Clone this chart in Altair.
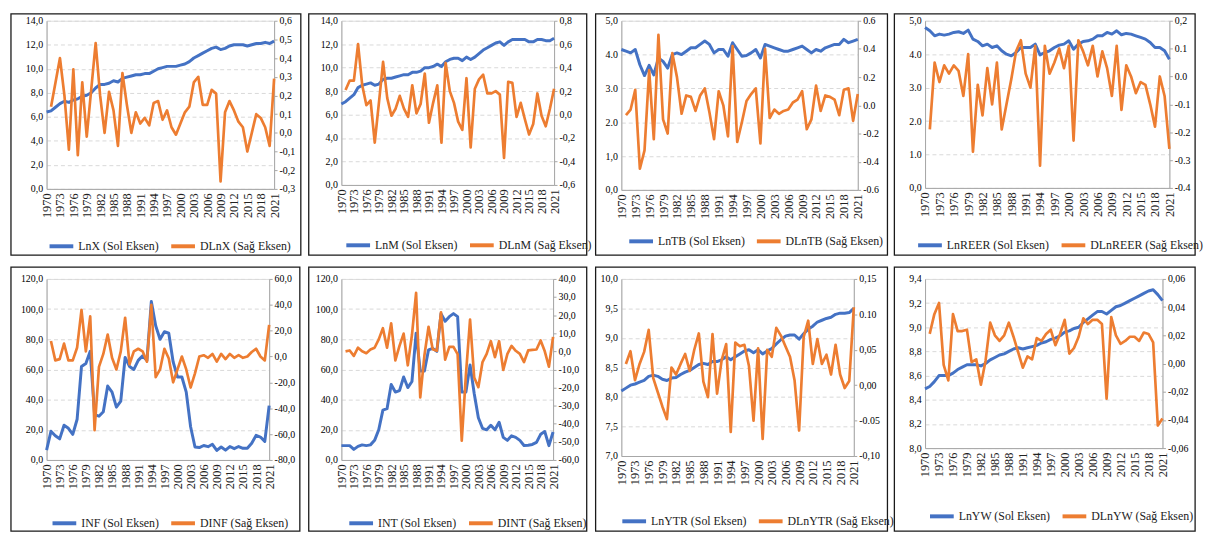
import altair as alt
import pandas as pd

YEARS = list(range(1970, 2022))
YEARS_D = YEARS[1:]
YEAR_TICKS = list(range(1970, 2022, 3))

BLUE = "#4472C4"
ORANGE = "#ED7D31"
FONT = "Liberation Serif"

# ---------------- data ----------------
lnx = [6.4, 6.5, 6.8, 7.1, 7.3, 7.2, 7.4, 7.5, 7.7, 7.8,
       8.0, 8.4, 8.7, 8.7, 8.8, 9.0, 8.9, 9.2, 9.3, 9.4,
       9.5, 9.5, 9.6, 9.6, 9.8, 10.0, 10.1, 10.2, 10.2, 10.2,
       10.3, 10.4, 10.6, 10.9, 11.1, 11.3, 11.5, 11.7, 11.8, 11.6,
       11.7, 11.9, 12.0, 12.0, 12.0, 11.9, 12.0, 12.1, 12.1, 12.2,
       12.1, 12.3]
dlnx = [0.14, 0.27, 0.40, 0.20, -0.09, 0.34, -0.12, 0.27, -0.02,
        0.23, 0.48, 0.20, 0.00, 0.22, 0.12, -0.07, 0.32, 0.15, 0.00,
        0.11, 0.05, 0.08, 0.04, 0.16, 0.17, 0.07, 0.12, 0.03, -0.01,
        0.05, 0.11, 0.14, 0.27, 0.30, 0.15, 0.15, 0.23, 0.21, -0.26,
        0.11, 0.17, 0.12, 0.06, 0.03, -0.10, 0.00, 0.10, 0.08, 0.03,
        -0.07, 0.29]

lnm = [6.9, 7.1, 7.4, 7.7, 8.3, 8.5, 8.6, 8.7, 8.5, 8.6,
       9.0, 9.1, 9.1, 9.2, 9.3, 9.4, 9.4, 9.6, 9.6, 9.7,
       10.0, 10.0, 10.1, 10.3, 10.1, 10.5, 10.7, 10.8, 10.8, 10.6,
       10.9, 10.7, 10.9, 11.2, 11.5, 11.7, 11.9, 12.1, 12.2, 11.9,
       12.2, 12.4, 12.4, 12.4, 12.4, 12.2, 12.2, 12.4, 12.4, 12.3,
       12.3, 12.5]
dlnm = [0.21, 0.29, 0.29, 0.60, 0.25, 0.08, 0.12, -0.24, 0.10,
        0.45, 0.14, -0.01, 0.05, 0.16, 0.05, -0.02, 0.25, 0.01, 0.09,
        0.35, -0.07, 0.10, 0.25, -0.24, 0.44, 0.20, 0.10, -0.06, -0.13,
        0.31, -0.28, 0.22, 0.30, 0.34, 0.18, 0.18, 0.20, 0.17, -0.37,
        0.28, 0.27, -0.02, 0.10, -0.04, -0.17, -0.08, 0.18, -0.01, -0.10,
        0.05, 0.22]

lntb = [4.15, 4.1, 4.05, 4.15, 3.7, 3.38, 3.68, 3.4, 3.9, 3.8,
        3.6, 4.0, 4.05, 4.0, 4.1, 4.2, 4.2, 4.3, 4.4, 4.3,
        4.05, 4.15, 4.15, 3.95, 4.35, 4.15, 3.95, 3.97, 4.05, 4.15,
        3.9, 4.3, 4.25, 4.2, 4.15, 4.1, 4.1, 4.15, 4.2, 4.25,
        4.15, 4.05, 4.15, 4.1, 4.2, 4.25, 4.3, 4.3, 4.45, 4.35,
        4.4, 4.45]
dlntb = [-0.07, -0.03, 0.11, -0.45, -0.32, 0.25, -0.24, 0.50, -0.10,
         -0.20, 0.37, 0.20, -0.06, 0.07, 0.06, -0.04, 0.07, 0.12, -0.05,
         -0.24, 0.10, 0.00, -0.22, 0.42, -0.26, -0.12, 0.03, 0.08, 0.12,
         -0.27, 0.40, -0.09, -0.03, -0.06, -0.04, -0.03, 0.02, 0.04, 0.10,
         -0.17, -0.10, 0.14, -0.04, 0.07, 0.06, 0.04, -0.07, 0.11, 0.12,
         -0.11, 0.08]

lnreer = [4.8, 4.7, 4.55, 4.6, 4.57, 4.6, 4.65, 4.67, 4.62, 4.72,
          4.45, 4.38, 4.25, 4.3, 4.2, 4.25, 4.1, 4.0, 3.95, 4.05,
          4.2, 4.2, 4.2, 4.3, 3.98, 4.05, 4.1, 4.2, 4.27, 4.3,
          4.4, 4.15, 4.3, 4.38, 4.4, 4.45, 4.55, 4.55, 4.65, 4.6,
          4.7, 4.58, 4.62, 4.6, 4.55, 4.5, 4.45, 4.35, 4.2, 4.2,
          4.1, 3.85]
dlnreer = [-0.19, 0.05, -0.02, 0.04, 0.01, 0.04, 0.02, -0.07, 0.08,
           -0.27, -0.03, -0.14, 0.03, -0.10, 0.05, -0.19, -0.10, -0.01, 0.09,
           0.13, 0.01, -0.04, 0.11, -0.32, 0.11, 0.01, 0.05, 0.10, 0.03,
           0.11, -0.23, 0.13, 0.09, 0.04, 0.11, 0.00, 0.09, 0.03, -0.07,
           0.11, -0.12, 0.04, 0.00, -0.06, -0.02, -0.03, -0.10, -0.18, 0.00,
           -0.07, -0.26]

inf = [6.5, 19, 16, 14, 23, 21, 17, 27, 62, 64,
       72, 30, 29, 32, 49, 45, 35, 39, 68, 62,
       60, 66, 69, 66, 105, 89, 80, 85, 84, 65,
       55, 55, 45, 22, 8.6, 8.2, 9.6, 8.8, 10.4, 6.3,
       8.6, 6.5, 8.9, 7.5, 8.9, 7.7, 7.8, 11.1, 16.3, 15.2,
       12.3, 36]
dinf = [12, -3, -2, 10, -3, -3, 7, 36, 4,
        31, -57, -8, 2, 17, -1, -10, 4, 30, -6,
        4, 6, 4, -4, 40, -16, -10, 6, -1.5, -20,
        -10, 0, -10, -24, -13, 0, 1, -1, 2, -4,
        2, -2, 2, -1, 1, -1, 0, 3.5, 6, 0,
        -3, 24.5]

int_rate = [9.5, 9.5, 9.5, 7, 9, 10, 9.5, 10, 13, 20,
            33, 34, 50, 45, 46, 55, 48, 52, 84, 59,
            59, 73, 74, 72, 97, 92, 95, 97, 95, 45,
            45, 63, 44, 28, 21, 20, 23, 20, 25, 15,
            13, 16, 15, 13, 9.6, 9.8, 10.3, 11.7, 17, 18.8,
            9.5, 18.5]
dint = [0, 0.5, -2.5, 2, 0, -1, 1, 2, 6.6,
        12.8, 2, 15.5, -5, 3, 9.8, -7.7, 9, 32.3, -25.4,
        -2.3, 13.6, 1.2, 0.3, 21.6, -4.6, 2.5, 2.5, -1.5, -49.4,
        -13, 17.6, -14.5, -19.8, -5.9, -1.4, 5.6, -3.2, 5.6, -10.3,
        -1.4, 3, 0.3, -1.4, -5.9, 0.5, 0.8, 1, 6, 0,
        -8.5, 8]

lnytr = [8.1, 8.15, 8.2, 8.22, 8.25, 8.28, 8.35, 8.37, 8.35, 8.3,
         8.28, 8.32, 8.33, 8.38, 8.42, 8.45, 8.5, 8.55, 8.57, 8.55,
         8.6, 8.6, 8.63, 8.68, 8.63, 8.68, 8.73, 8.78, 8.8, 8.75,
         8.8, 8.73, 8.78, 8.82, 8.9, 8.97, 9.03, 9.05, 9.05, 8.98,
         9.07, 9.15, 9.2, 9.27, 9.3, 9.33, 9.35, 9.4, 9.42, 9.42,
         9.43, 9.5]
dlnytr = [0.03, 0.048, 0.007, 0.03, 0.047, 0.078, 0.01, -0.01, -0.03,
          -0.048, 0.025, 0.015, 0.03, 0.044, 0.02, 0.05, 0.073, 0.005, -0.017,
          0.072, -0.012, 0.035, 0.058, -0.066, 0.06, 0.055, 0.057, 0.027, -0.05,
          0.052, -0.076, 0.05, 0.04, 0.081, 0.07, 0.055, 0.04, 0.007, -0.064,
          0.068, 0.091, 0.03, 0.065, 0.03, 0.043, 0.015, 0.057, 0.015, -0.004,
          0.006, 0.11]

lnyw = [8.49, 8.51, 8.55, 8.6, 8.6, 8.6, 8.62, 8.65, 8.67, 8.69,
        8.69, 8.69, 8.68, 8.7, 8.73, 8.75, 8.77, 8.78, 8.8, 8.82,
        8.83, 8.82, 8.83, 8.84, 8.85, 8.87, 8.88, 8.9, 8.91, 8.93,
        8.96, 8.97, 8.99, 9.0, 9.04, 9.07, 9.1, 9.13, 9.13, 9.11,
        9.14, 9.17, 9.18, 9.2, 9.22, 9.24, 9.26, 9.28, 9.3, 9.31,
        9.27, 9.22]
dlnyw = [0.021, 0.035, 0.043, -0.001, -0.012, 0.035, 0.023, 0.023, 0.024,
         0.001, 0.003, -0.015, 0.002, 0.029, 0.02, 0.016, 0.02, 0.029, 0.019,
         0.008, -0.003, 0.005, 0.003, 0.018, 0.016, 0.021, 0.024, 0.013, 0.021,
         0.031, 0.007, 0.011, 0.019, 0.032, 0.028, 0.031, 0.031, 0.028, -0.025,
         0.033, 0.02, 0.014, 0.016, 0.019, 0.019, 0.016, 0.022, 0.021, 0.015,
         -0.044, -0.039]

# ---------------- axis ticks and labels ----------------
l14_vals = [0, 2, 4, 6, 8, 10, 12, 14]
l14_labs = ["0,0", "2,0", "4,0", "6,0", "8,0", "10,0", "12,0", "14,0"]
r1_vals = [-0.3, -0.2, -0.1, 0.0, 0.1, 0.2, 0.3, 0.4, 0.5, 0.6]
r1_labs = ["-0,3", "-0,2", "-0,1", "0,0", "0,1", "0,2", "0,3", "0,4", "0,5", "0,6"]
r2_vals = [-0.6, -0.4, -0.2, 0.0, 0.2, 0.4, 0.6, 0.8]
r2_labs = ["-0,6", "-0,4", "-0,2", "0,0", "0,2", "0,4", "0,6", "0,8"]
l5_vals = [0, 1, 2, 3, 4, 5]
l3_labs = ["0,0", "1,0", "2.0", "3.0", "4.0", "5,0"]
l4_labs = ["0,0", "1.0", "2.0", "3.0", "4.0", "5,0"]
r3_vals = [-0.6, -0.4, -0.2, 0.0, 0.2, 0.4, 0.6]
r3_labs = ["-0.6", "-0.4", "-0.2", "0.0", "0.2", "0.4", "0.6"]
r4_vals = [-0.4, -0.3, -0.2, -0.1, 0.0, 0.1, 0.2]
r4_labs = ["-0.4", "-0.3", "-0.2", "-0.1", "0.0", "0.1", "0,2"]
l120_vals = [0, 20, 40, 60, 80, 100, 120]
l120_labs = ["0,0", "20,0", "40,0", "60,0", "80,0", "100,0", "120,0"]
r5_vals = [-80, -60, -40, -20, 0, 20, 40, 60]
r5_labs = ["-80,0", "-60,0", "-40,0", "-20,0", "0,0", "20,0", "40,0", "60,0"]
r6_vals = [-60, -50, -40, -30, -20, -10, 0, 10, 20, 30, 40]
r6_labs = ["-60,0", "-50,0", "-40,0", "-30,0", "-20,0", "-10,0", "0,0",
           "10,0", "20,0", "30,0", "40,0"]
l7_vals = [7.0, 7.5, 8.0, 8.5, 9.0, 9.5, 10.0]
l7_labs = ["7,0", "7,5", "8,0", "8,5", "9,0", "9,5", "10,0"]
r7_vals = [-0.10, -0.05, 0.0, 0.05, 0.10, 0.15]
r7_labs = ["-0,10", "-0.05", "0,00", "0,05", "0.10", "0,15"]
l8_vals = [8.0, 8.2, 8.4, 8.6, 8.8, 9.0, 9.2, 9.4]
l8_labs = ["8,0", "8,2", "8,4", "8,6", "8,8", "9,0", "9,2", "9,4"]
r8_vals = [-0.06, -0.04, -0.02, 0.0, 0.02, 0.04, 0.06]
r8_labs = ["-0,06", "-0,04", "-0,02", "0,00", "0,02", "0,04", "0,06"]

PANELS = [
    ("LnX (Sol Eksen)", lnx, "DLnX (Sağ Eksen)", dlnx, l14_vals, l14_labs, r1_vals, r1_labs),
    ("LnM (Sol Eksen)", lnm, "DLnM (Sağ Eksen)", dlnm, l14_vals, l14_labs, r2_vals, r2_labs),
    ("LnTB (Sol Eksen)", lntb, "DLnTB (Sağ Eksen)", dlntb, l5_vals, l3_labs, r3_vals, r3_labs),
    ("LnREER (Sol Eksen)", lnreer, "DLnREER (Sağ Eksen)", dlnreer, l5_vals, l4_labs, r4_vals, r4_labs),
    ("INF (Sol Eksen)", inf, "DINF (Sağ Eksen)", dinf, l120_vals, l120_labs, r5_vals, r5_labs),
    ("INT (Sol Eksen)", int_rate, "DINT (Sağ Eksen)", dint, l120_vals, l120_labs, r6_vals, r6_labs),
    ("LnYTR (Sol Eksen)", lnytr, "DLnYTR (Sağ Eksen)", dlnytr, l7_vals, l7_labs, r7_vals, r7_labs),
    ("LnYW (Sol Eksen)", lnyw, "DLnYW (Sağ Eksen)", dlnyw, l8_vals, l8_labs, r8_vals, r8_labs),
]

# layout: (frame left, plot width, frame right, frame top, plot height, frame bottom,
#          legend x, legend centre distance above frame bottom)
LAYOUT = [
    (36, 230, 27, 7, 170, 67, 1, 11),
    (33, 215, 33, 7, 166, 71, 3, 12),
    (26, 239, 30, 7, 171, 66, 6, 16),
    (31, 247, 26, 7, 169, 68, -9, 12),
    (36, 225, 31, 12, 183, 72, 4, 10),
    (33, 214, 34, 12, 183, 72, 6, 10),
    (26, 235, 34, 12, 179, 76, -1, 12),
    (31, 240, 33, 12, 171, 84, 3, 17),
]


def label_expr(vals, labs):
    parts = [f"abs(datum.value - ({v!r})) < 1e-6 ? '{t}'" for v, t in zip(vals, labs)]
    return " : ".join(parts) + " : ''"


def make_panel(spec, lay):
    bname, bvals, oname, ovals, lv, ll, rv, rl = spec
    fl, pw, fr, ft, ph, fb, lx, lgap = lay
    df = pd.DataFrame({
        "year": YEARS + YEARS_D,
        "value": bvals + ovals,
        "series": [bname] * len(bvals) + [oname] * len(ovals),
    })
    x = alt.X("year:Q", title=None,
              scale=alt.Scale(domain=[1970, 2021], nice=False, zero=False),
              axis=alt.Axis(values=YEAR_TICKS, format="d", labelAngle=270,
                            labelFlush=False, labelOverlap=False, ticks=False,
                            grid=False, labelPadding=4, labelFontSize=12.5,
                            labelColor="#222222", domainColor="#a6a6a6"))
    color = alt.Color(
        "series:N",
        scale=alt.Scale(domain=[bname, oname], range=[BLUE, ORANGE]),
        legend=alt.Legend(title=None, orient="none", direction="horizontal",
                          legendX=lx, legendY=ph + fb - lgap - 12,
                          symbolType="stroke", symbolStrokeWidth=4,
                          symbolSize=576, labelFont=FONT, labelFontSize=12,
                          labelColor="#222222", columnPadding=4, labelOffset=3,
                          labelLimit=300, padding=0))
    base = alt.Chart(df)
    left = base.transform_filter(alt.datum.series == bname).mark_line(
        strokeWidth=3, strokeJoin="round").encode(
        x=x,
        y=alt.Y("value:Q", title=None,
                scale=alt.Scale(domain=[lv[0], lv[-1]], nice=False, zero=False),
                axis=alt.Axis(orient="left", values=lv, labelExpr=label_expr(lv, ll),
                              grid=True, gridDash=[4, 3], gridColor="#d9d9d9",
                              ticks=False, labelPadding=4, domainColor="#a6a6a6")),
        color=color)
    right = base.transform_filter(alt.datum.series == oname).mark_line(
        strokeWidth=2.7, strokeJoin="round").encode(
        x=x,
        y=alt.Y("value:Q", title=None,
                scale=alt.Scale(domain=[rv[0], rv[-1]], nice=False, zero=False),
                axis=alt.Axis(orient="right", values=rv, labelExpr=label_expr(rv, rl),
                              grid=False, tickSize=3, tickColor="#a6a6a6",
                              labelPadding=2, domainColor="#a6a6a6")),
        color=color)
    frame = alt.Chart(alt.Data(values=[{"f": 1}])).mark_rect(
        fill="transparent", stroke="#1a1a1a", strokeWidth=1.3).encode(
        x=alt.value(-fl), x2=alt.value(pw + fr),
        y=alt.value(-ft), y2=alt.value(ph + fb))
    return alt.layer(frame, left, right).resolve_scale(y="independent").properties(
        width=pw, height=ph)


panels = [make_panel(s, l) for s, l in zip(PANELS, LAYOUT)]

chart = alt.concat(
    *panels, columns=4, spacing={"row": 90, "column": 68},
    bounds="flush", align="each"
).resolve_scale(color="independent").properties(padding=1).configure_view(
    stroke="transparent").configure_axis(
    labelFont=FONT, labelFontSize=12, labelColor="#333333").configure(
    background="white", font=FONT)

chart.save("out.html", embed_options={"renderer": "svg", "actions": False})
